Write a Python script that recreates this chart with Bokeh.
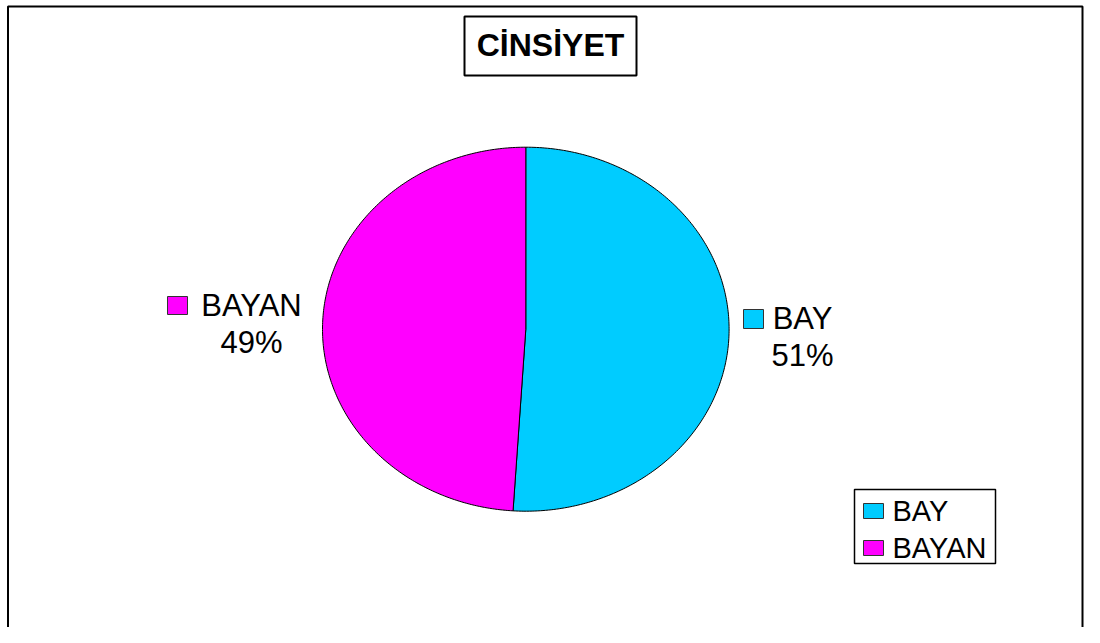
import numpy as np
from bokeh.plotting import figure
from bokeh.models import Range1d
from bokeh.embed import file_html
from bokeh.resources import INLINE
from bokeh.core.properties import value

# ---- data ----
chart_title = "CİNSİYET"
categories = ["BAY", "BAYAN"]
values = [51, 49]
colors = ["#00CCFF", "#FF00FF"]

FONT = value("Liberation Sans")
LABEL_SIZE = "31px"
LEGEND_SIZE = "29px"

W, H = 1084, 627
p = figure(width=W, height=H, x_range=Range1d(0, W), y_range=Range1d(H, 0),
           output_backend="svg", toolbar_location=None, min_border=0,
           x_axis_location=None, y_axis_location=None)
p.grid.visible = False
p.outline_line_color = None
p.background_fill_color = "white"
p.border_fill_color = "white"

# outer chart-area frame (bottom edge is outside the view)
p.line(x=[7.5, 7.5, 1082, 1082], y=[660, 6, 6, 660], line_color="black", line_width=2)

# title box
p.quad(left=[464], right=[636], top=[16], bottom=[75], fill_color="white",
       line_color="black", line_width=2)
p.text(x=[550], y=[44.5], text=[chart_title], text_font=FONT,
       text_font_style="bold", text_font_size="32px", text_align="center",
       text_baseline="middle", text_color="black")

# pie (ellipse, clockwise from 12 o'clock)
cx, cy, rx, ry = 525.3, 328.7, 203.3, 182.0
vals = np.array(values, dtype=float)
fr = vals / vals.sum()
ends = np.cumsum(fr) * 2 * np.pi
starts = ends - fr * 2 * np.pi
xs, ys = [], []
for a0, a1 in zip(starts, ends):
    t = np.linspace(a0, a1, 240)
    xs.append(np.concatenate([[cx], cx + rx * np.sin(t), [cx]]))
    ys.append(np.concatenate([[cy], cy - ry * np.cos(t), [cy]]))
p.patches(xs, ys, fill_color=colors, line_color="black", line_width=1)

# data labels: swatch + category, percentage below
pct = [f"{round(f * 100):.0f}%" for f in fr]
lab_swatch = {"BAY": (743, 763, 309, 328), "BAYAN": (167, 187, 296, 314)}
lab_center = {"BAY": (802, 318, 355), "BAYAN": (251, 305, 342)}
for i, c in enumerate(categories):
    l, r, t_, b = lab_swatch[c]
    p.quad(left=[l], right=[r], top=[t_], bottom=[b], fill_color=colors[i],
           line_color="#333333", line_width=1)
    xc, y1, y2 = lab_center[c]
    p.text(x=[xc], y=[y1], text=[c], text_font=FONT, text_font_size=LABEL_SIZE,
           text_align="center", text_baseline="middle", text_color="black")
    p.text(x=[xc], y=[y2], text=[pct[i]], text_font=FONT, text_font_size=LABEL_SIZE,
           text_align="center", text_baseline="middle", text_color="black")

# legend box
p.quad(left=[854], right=[995], top=[489], bottom=[563], fill_color="white",
       line_color="black", line_width=1.5)
leg_rows = [510.5, 547.5]
for i, c in enumerate(categories):
    yc = leg_rows[i]
    p.quad(left=[863], right=[883], top=[yc - 7.5], bottom=[yc + 7.5],
           fill_color=colors[i], line_color="#333333", line_width=1)
    p.text(x=[892], y=[yc], text=[c], text_font=FONT, text_font_size=LEGEND_SIZE,
           text_align="left", text_baseline="middle", text_color="black")

open("out.html", "w").write(file_html(p, INLINE))
